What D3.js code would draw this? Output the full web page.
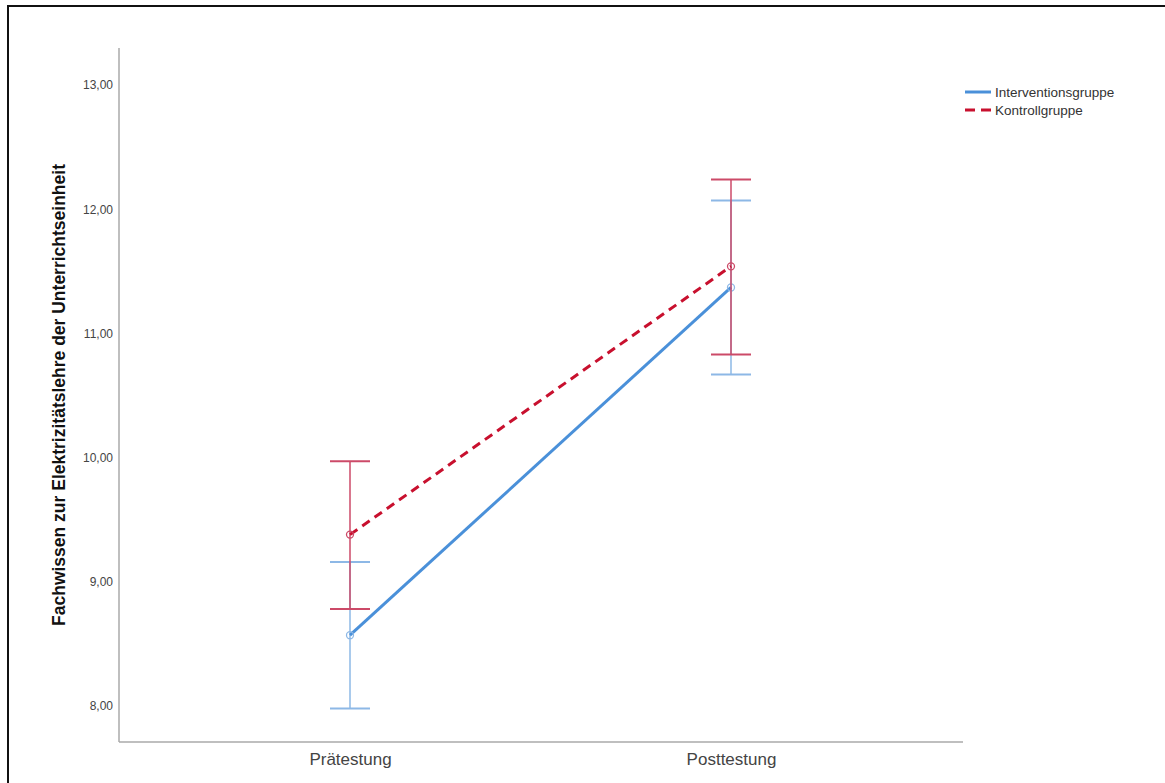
<!DOCTYPE html>
<html>
<head>
  <meta charset="utf-8">
  <title>Fachwissen Elektrizitätslehre</title>
  <script src="https://d3js.org/d3.v7.min.js"></script>
  <style>
    body { margin: 0; background: #fff; font-family: "Liberation Sans", Arial, sans-serif; }
  </style>
</head>
<body>
  <div id="chart"></div>
  <script>
    var testzeitpunkte = ['Prätestung', 'Posttestung'];
    var gruppen = ['Interventionsgruppe', 'Kontrollgruppe'];
    var yTicks = [8, 9, 10, 11, 12, 13];

    // Mittelwerte und Fehlerbalken (untere/obere Grenze)
    var interventionMittel = [8.57, 11.37];
    var interventionUnten = [7.98, 10.67];
    var interventionOben = [9.16, 12.07];

    var kontrollMittel = [9.38, 11.54];
    var kontrollUnten = [8.78, 10.83];
    var kontrollOben = [9.97, 12.24];

    var width = 1165, height = 783;

    var svg = d3.select('#chart').append('svg')
        .attr('width', width)
        .attr('height', height);

    // Rahmen (nur oben und links sichtbar)
    svg.append('path')
        .attr('d', 'M8,' + height + 'V6H' + width)
        .attr('fill', 'none')
        .attr('stroke', '#111')
        .attr('stroke-width', 2);

    var y = d3.scaleLinear()
        .domain([13 - (742 - 85) / 124.2, 13 + 37 / 124.2])
        .range([742, 48]);

    var x = d3.scalePoint()
        .domain(testzeitpunkte)
        .range([350, 731]);

    // Achsen
    svg.append('line')
        .attr('x1', 119).attr('x2', 119)
        .attr('y1', 48).attr('y2', 742)
        .attr('stroke', '#aaa').attr('stroke-width', 1.5);
    svg.append('line')
        .attr('x1', 119).attr('x2', 963)
        .attr('y1', 742).attr('y2', 742)
        .attr('stroke', '#aaa').attr('stroke-width', 1.5);

    var yAxis = d3.axisLeft(y)
        .tickValues(yTicks)
        .tickSize(0)
        .tickPadding(6)
        .tickFormat(function(d) { return d3.format('.2f')(d).replace('.', ','); });

    svg.append('g')
        .attr('transform', 'translate(119,0)')
        .call(yAxis)
        .call(function(g) { g.select('.domain').remove(); })
        .selectAll('text')
          .attr('font-family', '"Liberation Sans", Arial, sans-serif')
          .attr('font-size', 12)
          .attr('fill', '#444');

    var xAxis = d3.axisBottom(x).tickSize(0).tickPadding(11);
    svg.append('g')
        .attr('transform', 'translate(0,742)')
        .call(xAxis)
        .call(function(g) { g.select('.domain').remove(); })
        .selectAll('text')
          .attr('font-family', '"Liberation Sans", Arial, sans-serif')
          .attr('font-size', 17)
          .attr('fill', '#444');

    // y-Achsentitel
    svg.append('text')
        .attr('transform', 'translate(65,395) rotate(-90)')
        .attr('text-anchor', 'middle')
        .attr('font-family', '"Liberation Sans", Arial, sans-serif')
        .attr('font-size', 17.5)
        .attr('font-weight', 'bold')
        .attr('fill', '#111')
        .text('Fachwissen zur Elektrizitätslehre der Unterrichtseinheit');

    var serien = [
      { name: gruppen[0], mittel: interventionMittel, unten: interventionUnten, oben: interventionOben,
        line: '#4a90d9', bar: '#8db8e6', dash: null },
      { name: gruppen[1], mittel: kontrollMittel, unten: kontrollUnten, oben: kontrollOben,
        line: '#c8102e', bar: '#cc4a68', dash: '9,6' }
    ];

    var cap = 20;

    serien.forEach(function(s) {
      var g = svg.append('g');

      // Fehlerbalken
      testzeitpunkte.forEach(function(t, i) {
        var cx = x(t);
        g.append('line')
            .attr('x1', cx).attr('x2', cx)
            .attr('y1', y(s.unten[i])).attr('y2', y(s.oben[i]))
            .attr('stroke', s.bar).attr('stroke-width', 1.5);
        [s.unten[i], s.oben[i]].forEach(function(v) {
          g.append('line')
              .attr('x1', cx - cap).attr('x2', cx + cap)
              .attr('y1', y(v)).attr('y2', y(v))
              .attr('stroke', s.bar).attr('stroke-width', 2);
        });
      });

      var line = d3.line()
          .x(function(d, i) { return x(testzeitpunkte[i]); })
          .y(function(d) { return y(d); });

      g.append('path')
          .datum(s.mittel)
          .attr('d', line)
          .attr('fill', 'none')
          .attr('stroke', s.line)
          .attr('stroke-width', 3)
          .attr('stroke-dasharray', s.dash);

      g.selectAll('circle')
          .data(s.mittel)
          .enter().append('circle')
          .attr('cx', function(d, i) { return x(testzeitpunkte[i]); })
          .attr('cy', function(d) { return y(d); })
          .attr('r', 3.5)
          .attr('fill', 'none')
          .attr('stroke', s.bar)
          .attr('stroke-width', 1.3);
    });

    // Legende
    var legend = svg.append('g').attr('transform', 'translate(965,92)');
    serien.forEach(function(s, i) {
      legend.append('line')
          .attr('x1', 0).attr('x2', 26)
          .attr('y1', i * 18).attr('y2', i * 18)
          .attr('stroke', s.line)
          .attr('stroke-width', 3)
          .attr('stroke-dasharray', s.dash ? '10,6' : null);
      legend.append('text')
          .attr('x', 30)
          .attr('y', i * 18 + 5)
          .attr('font-family', '"Liberation Sans", Arial, sans-serif')
          .attr('font-size', 13.5)
          .attr('fill', '#333')
          .text(s.name);
    });
  </script>
</body>
</html>
